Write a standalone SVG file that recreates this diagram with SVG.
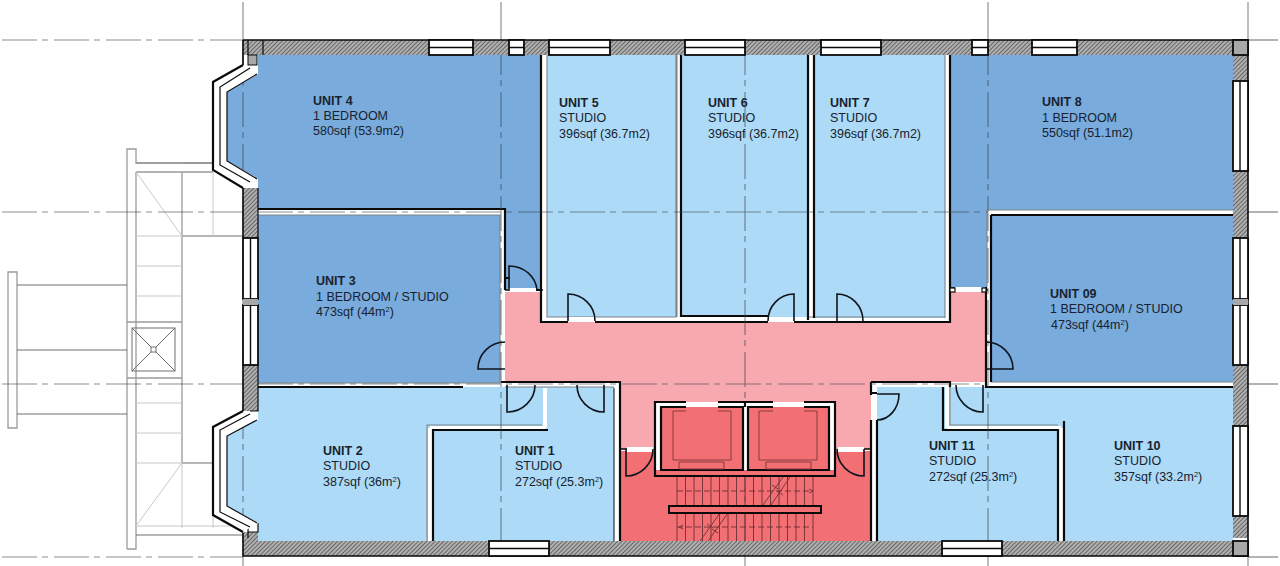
<svg xmlns="http://www.w3.org/2000/svg" width="1280" height="566" viewBox="0 0 1280 566">
<style>
text{font-family:"Liberation Sans",Arial,sans-serif;font-size:12.5px;fill:#18222e}
.b{font-weight:700}
.sup{font-size:7.5px}
.k{fill:none;stroke:#0a0a0a;stroke-width:2.2}
.t{fill:none;stroke:#0a0a0a;stroke-width:1.6}
.w{fill:none;stroke:#fff;stroke-width:4}
.g{fill:none;stroke:#7d8388;stroke-width:1.1}
.dr{fill:none;stroke:#10151c;stroke-width:1.6}
.win{fill:#fff;stroke:#0a0a0a;stroke-width:1.8}
.hat{fill:url(#h)}
.grid{fill:none;stroke:#3d4650;stroke-opacity:.6;stroke-width:1.2}
.dash{stroke-dasharray:35 5 6 6}
.ext{fill:none;stroke:#9a9a9a;stroke-width:1.3}
.ext2{fill:none;stroke:#c8c8c8;stroke-width:1}
.ext3{fill:none;stroke:#6e6e6e;stroke-width:1}
.st{fill:none;stroke:#6d3034;stroke-width:.9}
</style>
<defs>
<pattern id="h" width="3" height="3" patternUnits="userSpaceOnUse" patternTransform="rotate(45)">
<rect width="3" height="3" fill="#b0b0b0"/><rect width="1" height="3" fill="#666"/>
</pattern>
</defs>
<rect width="1280" height="566" fill="#fff"/>

<g id="exterior-stair">
<path class="ext" d="M127 549V149H136V163H185M185 163H213M136 172V549H127M136 172H213"/>
<path class="ext3" d="M185 163H213M182 236H243M182 463H213M136 535H243"/>
<path class="ext" d="M182 172V322M182 378V463M127 322H182V378H127"/>
<path class="ext2" d="M136 172L182 236M213 172V236M136 236H182M136 266H182M136 296H182M136 403H182M136 433H182M136 463H182M136 526L182 463M182 463V528M213 463V528M136 526H234"/>
<path class="ext" d="M8 272H17V428H8ZM136 163H213"/>
<path class="ext3" d="M17 285H127M17 350H127M17 414H127"/>
<rect x="132" y="328" width="43" height="43" class="ext3"/>
<rect x="151" y="347" width="5" height="5" class="ext3"/>
<path class="ext3" d="M132 328L151 347M175 328L156 347M132 371L151 352M175 371L156 352"/>
</g>

<g id="grid">
<path class="ext" d="M243 2V40M501 2V40M988 2V40M1248 2V40M243 556V566M745 556V566M988 556V566M1248 556V566M1248 40H1278M1248 212H1278M1248 384H1278M1248 557H1278"/>
</g>

<g id="unit-4"><polygon fill="#79abdd" points="258,55 541,55 541,290 505,290 505,210 258,210 258,179 227,161 227,92 258,74"/><text class="b" x="313" y="105">UNIT 4</text><text x="313" y="120">1 BEDROOM</text><text x="313" y="135">580sqf (53.9m2)</text></g>
<g id="unit-3"><rect fill="#79abdd" x="258" y="215" width="242" height="168"/><text class="b" x="316" y="285">UNIT 3</text><text x="316" y="301">1 BEDROOM / STUDIO</text><text x="316" y="316">473sqf (44m<tspan class="sup" dy="-4">2</tspan><tspan dy="4">)</tspan></text></g>
<g id="unit-2"><polygon fill="#addbf7" points="258,387 614,387 614,541 258,541 258,523 227,506 227,436 258,420"/><text class="b" x="323" y="455">UNIT 2</text><text x="323" y="470">STUDIO</text><text x="323" y="486">387sqf (36m<tspan class="sup" dy="-4">2</tspan><tspan dy="4">)</tspan></text></g>
<g id="unit-1"><text class="b" x="515" y="455">UNIT 1</text><text x="515" y="470">STUDIO</text><text x="515" y="486">272sqf (25.3m<tspan class="sup" dy="-4">2</tspan><tspan dy="4">)</tspan></text></g>
<g id="unit-5"><rect fill="#addbf7" x="547" y="55" width="130" height="262"/><text class="b" x="559" y="107">UNIT 5</text><text x="559" y="122">STUDIO</text><text x="559" y="138">396sqf (36.7m2)</text></g>
<g id="unit-6"><rect fill="#addbf7" x="677" y="55" width="132" height="262"/><text class="b" x="708" y="107">UNIT 6</text><text x="708" y="122">STUDIO</text><text x="708" y="138">396sqf (36.7m2)</text></g>
<g id="unit-7"><rect fill="#addbf7" x="809" y="55" width="137" height="268"/><text class="b" x="830" y="107">UNIT 7</text><text x="830" y="122">STUDIO</text><text x="830" y="138">396sqf (36.7m2)</text></g>
<g id="unit-8"><polygon fill="#79abdd" points="950,55 1233,55 1233,210 987,210 987,290 950,290"/><text class="b" x="1042" y="106">UNIT 8</text><text x="1042" y="122">1 BEDROOM</text><text x="1042" y="137">550sqf (51.1m2)</text></g>
<g id="unit-09"><rect fill="#79abdd" x="991" y="215" width="242" height="167"/><text class="b" x="1050" y="298">UNIT 09</text><text x="1050" y="313">1 BEDROOM / STUDIO</text><text x="1051" y="329">473sqf (44m<tspan class="sup" dy="-4">2</tspan><tspan dy="4">)</tspan></text></g>
<g id="unit-10"><rect fill="#addbf7" x="877" y="387" width="356" height="154"/><text class="b" x="1114" y="450">UNIT 10</text><text x="1114" y="465">STUDIO</text><text x="1114" y="481">357sqf (33.2m<tspan class="sup" dy="-4">2</tspan><tspan dy="4">)</tspan></text></g>
<g id="unit-11"><text class="b" x="929" y="450">UNIT 11</text><text x="929" y="465">STUDIO</text><text x="929" y="481">272sqf (25.3m<tspan class="sup" dy="-4">2</tspan><tspan dy="4">)</tspan></text></g>
<g id="corridor"><polygon fill="#f8a8af" points="505,292 541,292 541,322 950,322 950,292 986,292 986,382 871,382 871,449 620,449 620,382 505,382"/></g>
<g id="stair-core"><rect fill="#f27074" x="620" y="451" width="251" height="90"/></g>

<g id="partitions">
<path class="w" d="M258 212H503M502 212V290M502 292V382M258 385H463M1233 213H989M989 213V385M989 385H1233M544 55V320M544 320H946M679 55V317M811 55V319M947 55V320"/>
<path class="w" d="M505 385H617M616 385V541M545 388V428M545 428H430M430 428V541M874 385H947M947 385V428M947 428H1061M1061 428V541M874 385V395M874 420V541"/>
<path class="g" d="M258 215H500V383H258M547 55V317H676V55M677 55V317M945 55V318M809 317H945M1233 210H987V287M1233 382H991M505 387H614M427 541V425H542M950 387V425H1058"/>
<path fill="none" stroke="#2a2f33" stroke-width="1.2" d="M614 388V541"/>
<path class="k" d="M258 209H505V290M258 387H463M541 55V292M505 278H510M535 290H541M541 292V322H568M595 322H768M794 322H950V292M681 55V316H768M808 55V320M814 55V318M950 55V292"/>
<path class="k" d="M501 382H620V449M620 541V449M548 430H433V541M871 382V395M871 420V541M877 541V420M877 393H871M871 382H950V387M943 387V430H1058V541M1064 421V541M986 287V387H1233M991 215H1233M991 215V382"/>
<path class="t" d="M505 290H510M537 290H543M950 288H955M982 290H988M620 449H627M864 449H871"/>
<rect x="508" y="288" width="28" height="4" fill="#fff"/>
<rect x="568" y="317" width="27" height="4.500" fill="#fff"/>
<rect x="768" y="317" width="26" height="4.500" fill="#fff"/>
<rect x="955" y="287" width="27" height="5" fill="#fff"/>
<rect x="627" y="447" width="26" height="5" fill="#fff"/>
<rect x="838" y="447" width="26" height="5" fill="#fff"/>
<rect x="872" y="396" width="5" height="24" fill="#fff"/>
<rect x="950" y="288" width="5" height="4" fill="#fff" stroke="#0a0a0a" stroke-width="1.2"/>
<rect x="982" y="288" width="4" height="4" fill="#fff" stroke="#0a0a0a" stroke-width="1.2"/>
</g>

<g id="plan-grid">
<path class="grid dash" d="M2 40H243M2 212H243M258 212H988M2 384H243M258 384H986M2 557H243M243 40V556M501 40V556M745 40V556M988 40V556"/>
</g>

<g id="doors">
<path class="dr" d="M509 291V266A28 26 0 0 1 537 290"/>
<path class="dr" d="M568 321V294A27 27 0 0 1 595 321"/>
<path class="dr" d="M505 369H478A27 27 0 0 1 505 342"/>
<path class="dr" d="M507 385V412A28 27 0 0 0 535 385"/>
<path class="dr" d="M604 385V412A27 27 0 0 1 577 385"/>
<path class="dr" d="M794 321V294A26 27 0 0 0 768 321"/>
<path class="dr" d="M837 321V294A26 27 0 0 1 863 321"/>
<path class="dr" d="M986 369H1013A27 27 0 0 0 986 342"/>
<path class="dr" d="M983 385V412A27 27 0 0 1 956 385"/>
<path class="dr" d="M877 394H899A22 26 0 0 1 877 420"/>
<path class="dr" d="M626 449V476A27 27 0 0 0 653 449"/>
<path class="dr" d="M864 449V476A27 27 0 0 1 837 449"/>
</g>

<g id="lifts">
<rect x="655" y="402" width="180" height="74" fill="#fff"/>
<rect x="655" y="470" width="180" height="6" fill="#f27074"/>
<rect x="661" y="407" width="82" height="63" fill="#f27074"/>
<rect x="748" y="407" width="81" height="63" fill="#f27074"/>
<path class="k" d="M686 402H655V476H835V402H804M773 402H718M686 407H661V470H743V407H718M804 407H829V470H748V407H773M745 402V407"/>
<path fill="none" stroke="#8a3a3f" stroke-width="1" d="M686 411H673V460H731V411H718M773 411H759V460H817V411H804M679 462H724V469H679ZM766 462H811V469H766Z"/>
<rect x="686" y="402" width="32" height="5" fill="#fff"/>
<rect x="773" y="402" width="31" height="5" fill="#fff"/>
</g>

<g id="stairs">
<path class="st" d="M677 477V541M685.500 477V541M694 477V541M702.500 477V541M711 477V541M719.500 477V541M728 477V541M736.500 477V541M745 477V541M753.500 477V541M762 477V541M770.500 477V541M779 477V541M787.500 477V541M796 477V541M804.500 477V541M813 477V541"/>
<path class="st" stroke-dasharray="6 3" d="M677 491H813M677 527H813"/>
<path class="st" d="M809 489L813 491L809 493M683 525L679 527L683 529M763 505L783 477M771 505L790 477M700 541L720 513M708 541L728 513M772 485L778 489M777 491L783 495M707 524L713 528M712 529L718 533"/>
<rect x="669" y="506" width="152" height="7" fill="#f27074" stroke="#0a0a0a" stroke-width="2"/>
</g>

<g id="walls">
<rect class="hat" x="243" y="40" width="1005" height="15"/>
<rect class="hat" x="243" y="541" width="1005" height="15"/>
<rect class="hat" x="243" y="188" width="15" height="50"/>
<rect class="hat" x="243" y="365" width="15" height="46"/>
<rect class="hat" x="243" y="532" width="15" height="10"/>
<rect class="hat" x="1233" y="55" width="15" height="483"/>
<path fill="none" stroke="#0a0a0a" stroke-width="1.6" d="M243 40H1248V556H243V533M243 40V65M243 188V238M243 365V411"/>
<path fill="none" stroke="#0a0a0a" stroke-width="1.2" d="M243 541H242M258 188V238M258 365V387M258 387V411H250M248 40V55M263 40V55M258 523V532H248M248 538V524"/>
<rect x="248" y="55" width="9" height="10" fill="#a8a8a8" stroke="#0a0a0a" stroke-width="1"/>
<rect x="1233" y="40" width="15" height="15" fill="#a8a8a8" stroke="#0a0a0a" stroke-width="1.8"/>
<rect x="1233" y="541" width="15" height="15" fill="#a8a8a8" stroke="#0a0a0a" stroke-width="1.8"/>
</g>

<g id="bays" fill="none" stroke="#0a0a0a">
<path fill="#fff" stroke="none" d="M243 65L213 82V170L243 188L258 179L227 161V92L258 74Z"/>
<path fill="#fff" stroke="none" d="M243 411L213 427V515L243 532L258 523L227 506V436L258 420Z"/>
<path stroke-width="2.2" d="M243 65L213 82V170L243 188M243 411L213 427V515L243 532"/>
<path stroke-width="1.2" d="M250 68L220 87V165L250 182M250 414L220 430V512L250 527M257 74L227 92V161L257 179M257 420L227 436V506L257 523"/>
</g>

<g id="windows">
<g class="win">
<rect x="429" y="40" width="44" height="15"/><rect x="509" y="40" width="15" height="15"/><rect x="549" y="40" width="61" height="15"/><rect x="685" y="40" width="60" height="15"/><rect x="821" y="40" width="60" height="15"/><rect x="972" y="40" width="16" height="15"/><rect x="1032" y="40" width="45" height="15"/>
<rect x="489" y="541" width="60" height="15"/><rect x="942" y="541" width="60" height="15"/>
<rect x="243" y="238" width="15" height="61"/><rect x="243" y="305" width="15" height="60"/>
<rect x="1233" y="81" width="15" height="90"/><rect x="1233" y="238" width="15" height="61"/><rect x="1233" y="305" width="15" height="60"/><rect x="1233" y="426" width="15" height="90"/>
</g>
<path fill="none" stroke="#0a0a0a" stroke-width="1.4" d="M429 47.500H473M509 47.500H524M549 47.500H610M685 47.500H745M821 47.500H881M972 47.500H988M1032 47.500H1077M489 548.500H549M942 548.500H1002M250.500 238V299M250.500 305V365M1240 81V171M1240 238V299M1240 305V365M1240 426V516"/>
<path fill="#a8a8a8" d="M243 299H258V305H243ZM1233 299H1248V305H1233Z"/>
</g>
</svg>
